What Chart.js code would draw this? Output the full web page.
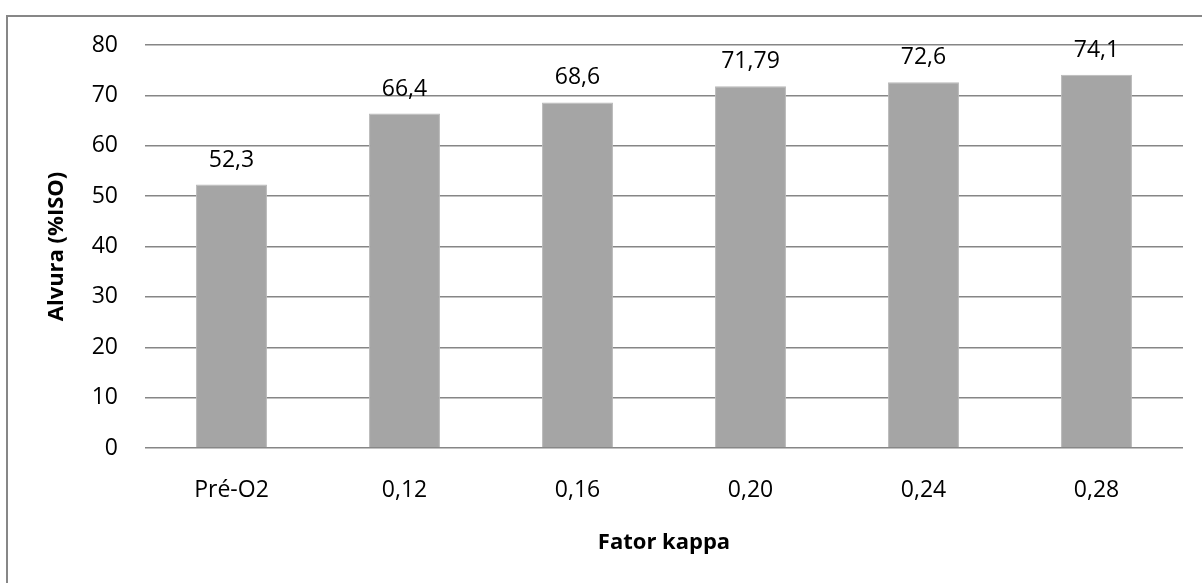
<!DOCTYPE html>
<html>
<head>
<meta charset="utf-8">
<script src="https://cdn.jsdelivr.net/npm/chart.js@4/dist/chart.umd.min.js"></script>
<style>
  html, body { margin: 0; padding: 0; background: #fff; overflow: hidden; }
  #wrap { position: relative; width: 1202px; height: 583px; }
</style>
</head>
<body>
<div id="wrap"><canvas id="c" width="1202" height="583"></canvas></div>
<script>
// Alvura por fator kappa
const categories = ['Pré-O2', '0,12', '0,16', '0,20', '0,24', '0,28'];
const alvura = [52.3, 66.4, 68.6, 71.79, 72.6, 74.1];
const valueLabels = ['52,3', '66,4', '68,6', '71,79', '72,6', '74,1'];
const yTicks = [0, 10, 20, 30, 40, 50, 60, 70, 80];

const FONT = '"Open Sans", "Noto Sans", sans-serif';

// Outer frame of the chart (its right and bottom edges fall outside the page)
const framePlugin = {
  id: 'frame',
  afterDraw(chart) {
    const ctx = chart.ctx;
    ctx.save();
    ctx.strokeStyle = '#878787';
    ctx.lineWidth = 2;
    ctx.strokeRect(7, 16, 2000, 2000);
    ctx.restore();
  }
};

// Value labels above each bar
const valueLabelPlugin = {
  id: 'valueLabels',
  afterDatasetsDraw(chart) {
    const ctx = chart.ctx;
    const meta = chart.getDatasetMeta(0);
    ctx.save();
    ctx.font = '23px ' + FONT;
    ctx.fillStyle = '#000';
    ctx.textAlign = 'center';
    ctx.textBaseline = 'alphabetic';
    meta.data.forEach((bar, i) => {
      ctx.fillText(valueLabels[i], bar.x, bar.y - 18);
    });
    ctx.restore();
  }
};

new Chart(document.getElementById('c'), {
  type: 'bar',
  data: {
    labels: categories,
    datasets: [{
      data: alvura,
      backgroundColor: '#a5a5a5',
      borderColor: '#b9b9b9',
      borderWidth: 1,
      categoryPercentage: 1,
      barPercentage: 0.41
    }]
  },
  options: {
    responsive: false,
    animation: false,
    events: [],
    layout: { padding: { top: 45, right: 19, bottom: 0, left: 0 } },
    plugins: {
      legend: { display: false },
      tooltip: { enabled: false }
    },
    scales: {
      x: {
        grid: { display: false, drawTicks: false },
        border: { display: false },
        ticks: { color: '#000', font: { family: FONT, size: 23 }, padding: 29 },
        title: {
          display: true,
          text: 'Fator kappa',
          color: '#000',
          font: { family: FONT, size: 22, weight: 'bold' },
          padding: { top: 0, bottom: 27 }
        },
        afterFit(scale) { scale.height = 135; }
      },
      y: {
        min: 0,
        max: 80,
        afterBuildTicks(scale) { scale.ticks = yTicks.map(v => ({ value: v })); },
        grid: { color: '#868686', lineWidth: 1.5, drawTicks: false },
        border: { display: false },
        ticks: { color: '#000', font: { family: FONT, size: 23 }, padding: 27 },
        title: {
          display: true,
          text: 'Alvura (%ISO)',
          color: '#000',
          font: { family: FONT, size: 22, weight: 'bold' },
          padding: { top: 44, bottom: 0 }
        },
        afterFit(scale) { scale.width = 145; }
      }
    }
  },
  plugins: [framePlugin, valueLabelPlugin]
});
</script>
</body>
</html>
